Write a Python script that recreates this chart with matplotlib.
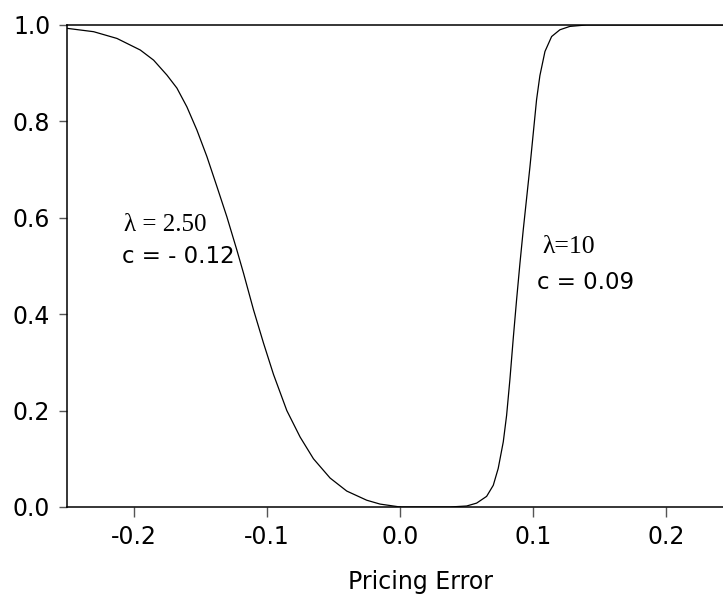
import numpy as np
from matplotlib import pyplot as plt

# pricing error vs transition weight
x_left = [-0.25, -0.23, -0.2125, -0.195, -0.185, -0.175, -0.1675, -0.16,
          -0.1525, -0.145, -0.1375, -0.13, -0.1225, -0.1175, -0.11, -0.1025,
          -0.095, -0.085, -0.075, -0.065, -0.0525, -0.04, -0.025, -0.015, 0.0]
y_left = [0.993, 0.986, 0.972, 0.948, 0.927, 0.896, 0.869, 0.830,
          0.782, 0.727, 0.665, 0.602, 0.533, 0.485, 0.409, 0.340,
          0.275, 0.200, 0.145, 0.100, 0.060, 0.033, 0.014, 0.006, 0.0]

x_right = [0.0, 0.0375, 0.05, 0.0575, 0.065, 0.07, 0.0737, 0.0775, 0.08,
           0.0825, 0.085, 0.0875, 0.09, 0.0925, 0.095, 0.0975, 0.10, 0.1025,
           0.105, 0.1088, 0.1138, 0.12, 0.1275, 0.14, 0.25]
y_right = [0.0, 0.0, 0.002, 0.008, 0.022, 0.045, 0.080, 0.135, 0.190,
           0.265, 0.350, 0.430, 0.505, 0.575, 0.640, 0.705, 0.775, 0.845,
           0.895, 0.945, 0.976, 0.990, 0.997, 1.0, 1.0]

xticks = [-0.2, -0.1, 0.0, 0.1, 0.2]
yticks = [0.0, 0.2, 0.4, 0.6, 0.8, 1.0]

plt.rcParams['font.family'] = ['DejaVu Sans']

fig = plt.figure(figsize=(7.23, 5.97), dpi=100)
ax = fig.add_axes([0.0927, 0.1508, 0.9212, 0.8074])

ax.plot(x_left, y_left, color='black', lw=0.9)
ax.plot(x_right, y_right, color='black', lw=0.9)

ax.set_xlim(-0.25, 0.25)
ax.set_ylim(0.0, 1.0)
ax.set_xticks(xticks)
ax.set_xticklabels(['%.1f' % t for t in xticks])
ax.set_yticks(yticks)
ax.set_yticklabels(['%.1f' % t for t in yticks])

for s in ax.spines.values():
    s.set_linewidth(1.1)
ax.tick_params(axis='x', length=7, width=1, color='#555555', pad=6, labelsize=17)
ax.tick_params(axis='y', length=6, width=1, color='#555555', pad=6, labelsize=17)

ax.set_xlabel('Pricing Error', fontsize=17)
ax.xaxis.set_label_coords(0.53, -0.13)

serif = ['Liberation Serif', 'DejaVu Serif']
ax.text(-0.207, 0.585, 'λ = 2.50', family=serif, fontsize=18, va='center')
ax.text(-0.209, 0.52, 'c = - 0.12', fontsize=16.5, va='center')
ax.text(0.107, 0.54, 'λ=10', family=serif, fontsize=18.5, va='center')
ax.text(0.103, 0.465, 'c = 0.09', fontsize=16.5, va='center')

fig.savefig('out.png', dpi=100)
